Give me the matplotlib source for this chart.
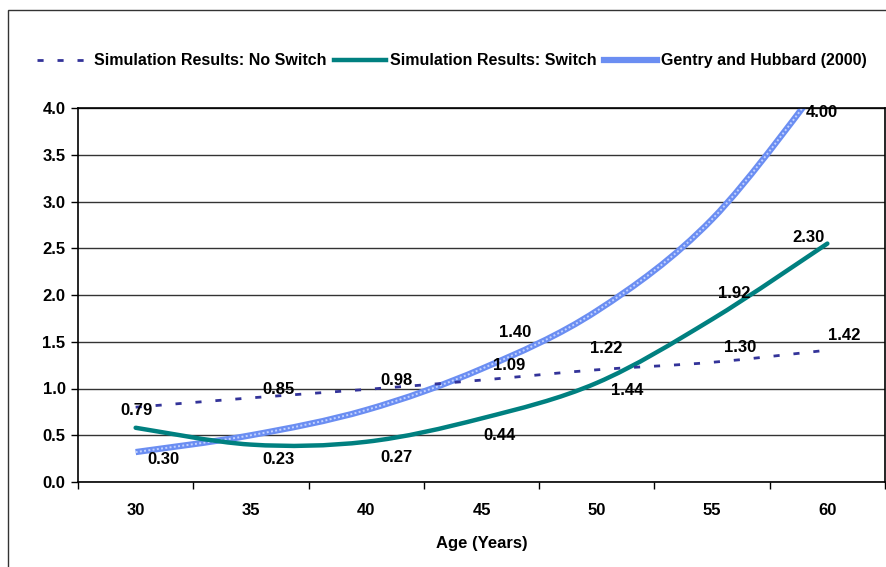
import matplotlib
matplotlib.use('Agg')
import matplotlib.pyplot as plt
from matplotlib.path import Path
from matplotlib.patches import PathPatch, Rectangle
from matplotlib.lines import Line2D

plt.rcParams['font.family'] = ['Liberation Sans', 'DejaVu Sans']
plt.rcParams['font.weight'] = 'bold'

# data
ages = [30, 35, 40, 45, 50, 55, 60]
no_switch = [0.80, 0.90, 0.99, 1.09, 1.20, 1.28, 1.41]
switch = [0.58, 0.40, 0.43, 0.68, 1.06, 1.74, 2.55]
gentry = [0.32, 0.50, 0.77, 1.21, 1.83, 2.81, 4.35]

series_names = ['Simulation Results: No Switch', 'Simulation Results: Switch',
                'Gentry and Hubbard (2000)']

# data labels as printed on the chart
label_text = ['0.79', '0.85', '0.98', '1.09', '1.22', '1.30', '1.42',
              '0.30', '0.23', '0.27', '0.44', '1.44',
              '1.40', '1.92', '2.30', '4.00']
# where each label sits (age, value)
label_xy = [(30.05, 0.77), (36.2, 0.99), (41.3, 1.09), (46.2, 1.25), (50.4, 1.43),
            (56.2, 1.44), (60.75, 1.57),
            (31.2, 0.24), (36.2, 0.24), (41.3, 0.26), (45.8, 0.50), (51.3, 0.98),
            (46.45, 1.60), (55.95, 2.02), (59.2, 2.62), (59.75, 3.95)]

FS = 12


def smooth_path(xs, ys):
    # excel style smoothed line: cubic bezier through every point
    pts = list(zip(xs, ys))
    verts = [pts[0]]
    codes = [Path.MOVETO]
    n = len(pts)
    for i in range(n - 1):
        p0 = pts[max(i - 1, 0)]
        p1 = pts[i]
        p2 = pts[i + 1]
        p3 = pts[min(i + 2, n - 1)]
        c1 = (p1[0] + (p2[0] - p0[0]) / 6, p1[1] + (p2[1] - p0[1]) / 6)
        c2 = (p2[0] - (p3[0] - p1[0]) / 6, p2[1] - (p3[1] - p1[1]) / 6)
        verts += [c1, c2, p2]
        codes += [Path.CURVE4] * 3
    return Path(verts, codes)


fig = plt.figure(figsize=(8.86, 5.67), dpi=100)
ax = fig.add_axes([78 / 886, 1 - 482 / 567, 807 / 886, 374 / 567])

# outer chart border
fig.patches.append(Rectangle((8 / 886, -0.1), 1.2, 1.1 - 10 / 567,
                             transform=fig.transFigure, fill=False,
                             edgecolor='#333333', linewidth=1))

ns_style = dict(color='#333399', lw=2.0, ls=(0, (2.2, 5.0)))
sw_style = dict(color='#008080', lw=3.2, ls='-')
gh_style = dict(color='#6b8ef2', lw=4.5, ls='-')
gh_top = dict(color='#c2d2ff', lw=1.4, ls=(0, (1, 1.2)))

ax.add_patch(PathPatch(smooth_path(ages, no_switch), fill=False,
                       edgecolor=ns_style['color'], lw=ns_style['lw'],
                       ls=ns_style['ls'], zorder=4))
ax.add_patch(PathPatch(smooth_path(ages, switch), fill=False,
                       edgecolor=sw_style['color'], lw=sw_style['lw'],
                       capstyle='round', zorder=3))
ax.add_patch(PathPatch(smooth_path(ages, gentry), fill=False,
                       edgecolor=gh_style['color'], lw=gh_style['lw'], zorder=2))
ax.add_patch(PathPatch(smooth_path(ages, gentry), fill=False,
                       edgecolor=gh_top['color'], lw=gh_top['lw'],
                       ls=gh_top['ls'], zorder=2))

for txt, (x, y) in zip(label_text, label_xy):
    ax.text(x, y, txt, ha='center', va='center', fontsize=FS,
            fontweight='bold', zorder=6)

ax.set_xlim(27.5, 62.5)
ax.set_ylim(0, 4.0)
ax.set_yticks([0.5 * i for i in range(9)])
ax.set_yticklabels([f'{0.5 * i:.1f}' for i in range(9)])
ax.set_xticks(ages)
ax.set_xticks([27.5 + 5 * i for i in range(8)], minor=True)
ax.tick_params(axis='x', which='major', length=0, pad=15, labelsize=FS)
ax.tick_params(axis='x', which='minor', length=5, width=1, direction='out')
ax.tick_params(axis='y', length=5, width=1, direction='out', pad=4, labelsize=FS)
ax.grid(axis='y', color='#333333', lw=1)
ax.set_axisbelow(True)
for s in ax.spines.values():
    s.set_color('black')
    s.set_linewidth(1.2)
ax.set_xlabel('Age (Years)', fontsize=FS, fontweight='bold', labelpad=13)

handles = [Line2D([], [], **ns_style),
           Line2D([], [], **sw_style),
           Line2D([], [], **gh_style)]
fig.legend(handles, series_names, loc='center', bbox_to_anchor=(0.51, 1 - 61 / 567),
           ncol=3, frameon=False, handlelength=3.3,
           handletextpad=0.25, columnspacing=0.45,
           prop={'weight': 'bold', 'size': 11.5})

fig.savefig('out.png', dpi=100)
